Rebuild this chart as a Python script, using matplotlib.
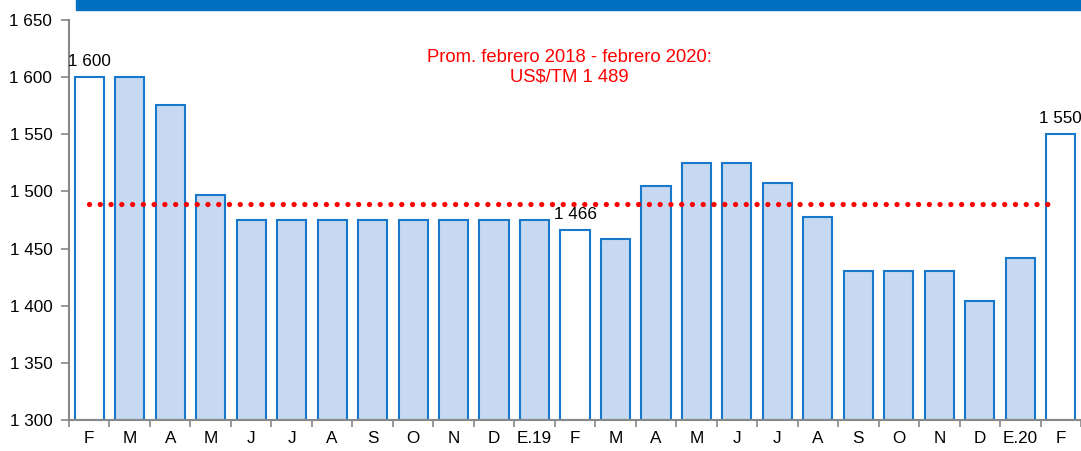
import numpy as np
import matplotlib.pyplot as plt
from matplotlib.patches import Rectangle

plt.rcParams['font.family'] = ['Liberation Sans', 'DejaVu Sans']

# Data
meses = ['F', 'M', 'A', 'M', 'J', 'J', 'A', 'S', 'O', 'N', 'D', 'E.19',
         'F', 'M', 'A', 'M', 'J', 'J', 'A', 'S', 'O', 'N', 'D', 'E.20', 'F']
precios = [1600, 1600, 1576, 1497, 1475, 1475, 1475, 1475, 1475, 1475, 1475, 1475,
           1466, 1458, 1505, 1525, 1525, 1507, 1478, 1430, 1430, 1430, 1404, 1442, 1550]
promedio = 1489
etiquetas = {0: '1 600', 12: '1 466', 24: '1 550'}   # bars with a value label
y_ticks = [1300, 1350, 1400, 1450, 1500, 1550, 1600, 1650]

azul = '#0070C0'
borde = '#1778CC'
relleno = '#C6D9F1'

fig = plt.figure(figsize=(10.81, 4.51), dpi=100)
ax = fig.add_axes([69/1081, 31/451, 1 - 69/1081, 400/451])

x = np.arange(len(meses))
colores = ['white' if i in etiquetas else relleno for i in x]
ax.bar(x, [p - 1300 for p in precios], bottom=1300, width=0.72,
       color=colores, edgecolor=borde, linewidth=1.5, zorder=2)

# average line (dotted)
ax.plot([0.0, 23.9], [promedio, promedio], linestyle=(0, (0.01, 2.03)),
        color='red', linewidth=3.8, dash_capstyle='round', zorder=3)

for i, txt in etiquetas.items():
    ax.text(i, precios[i] + 7, txt, ha='center', va='bottom', fontsize=12.3)

ax.text(11.86, 1609, 'Prom. febrero 2018 - febrero 2020:\nUS$/TM 1 489', ha='center',
        va='center', color='red', fontsize=13.3, linespacing=1.2)

ax.set_xlim(-0.5, len(meses) - 0.5)
ax.set_ylim(1300, 1650)
ax.set_yticks(y_ticks)
ax.set_yticklabels([f'{v // 1000} {v % 1000:03d}' for v in y_ticks], fontsize=12.3)
ax.set_xticks(x)
ax.set_xticklabels(meses, fontsize=12.3)
ax.set_xticks(np.arange(-0.5, len(meses)), minor=True)
ax.tick_params(axis='x', which='major', length=0, pad=8)
ax.tick_params(axis='x', which='minor', length=5, color='#888888', width=1.2)
ax.tick_params(axis='y', length=6, color='#888888', width=1.2, pad=6)

for s in ['top', 'right']:
    ax.spines[s].set_visible(False)
for s in ['left', 'bottom']:
    ax.spines[s].set_color('#888888')
    ax.spines[s].set_linewidth(1.5)

# blue band at the top
fig.patches.append(Rectangle((76/1081, 441/451), 1, 10/451, transform=fig.transFigure,
                             color=azul, zorder=5))

fig.savefig('out.png', dpi=100)
